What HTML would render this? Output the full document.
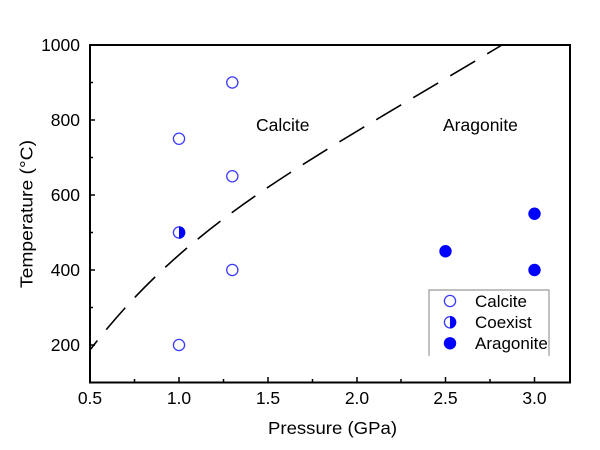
<!DOCTYPE html>
<html>
<head>
<meta charset="utf-8">
<style>
html,body{margin:0;padding:0;background:#fff;}
svg{display:block;}
text{font-family:"Liberation Sans",Arial,sans-serif;fill:#000;}
</style>
</head>
<body>
<svg width="600" height="450" viewBox="0 0 600 450" xmlns="http://www.w3.org/2000/svg">
<rect x="0" y="0" width="600" height="450" fill="#fff"/>

<!-- dashed boundary curve -->
<path d="M90,350 C190,220 302,165 502,45"
 fill="none" stroke="#000" stroke-width="1.6" stroke-dasharray="29 14" stroke-dashoffset="17"/>

<!-- frame -->
<rect x="90" y="45" width="480" height="337.5" fill="none" stroke="#000" stroke-width="2"/>

<!-- x ticks -->
<g stroke="#000" stroke-width="1.5">
<line x1="90" y1="382" x2="90" y2="377"/>
<line x1="134.5" y1="382" x2="134.5" y2="379"/>
<line x1="179" y1="382" x2="179" y2="377"/>
<line x1="223.5" y1="382" x2="223.5" y2="379"/>
<line x1="268" y1="382" x2="268" y2="377"/>
<line x1="312.5" y1="382" x2="312.5" y2="379"/>
<line x1="357" y1="382" x2="357" y2="377"/>
<line x1="401" y1="382" x2="401" y2="379"/>
<line x1="445.5" y1="382" x2="445.5" y2="377"/>
<line x1="490" y1="382" x2="490" y2="379"/>
<line x1="534.5" y1="382" x2="534.5" y2="377"/>
<!-- y ticks -->
<line x1="90" y1="45" x2="95" y2="45"/>
<line x1="90" y1="82.5" x2="93" y2="82.5"/>
<line x1="90" y1="120" x2="95" y2="120"/>
<line x1="90" y1="157.5" x2="93" y2="157.5"/>
<line x1="90" y1="195" x2="95" y2="195"/>
<line x1="90" y1="232.5" x2="93" y2="232.5"/>
<line x1="90" y1="270" x2="95" y2="270"/>
<line x1="90" y1="307.5" x2="93" y2="307.5"/>
<line x1="90" y1="345" x2="95" y2="345"/>
</g>

<!-- tick labels -->
<g font-size="17.5" text-anchor="middle">
<text x="90" y="404">0.5</text>
<text x="179" y="404">1.0</text>
<text x="268" y="404">1.5</text>
<text x="357" y="404">2.0</text>
<text x="445.5" y="404">2.5</text>
<text x="534.5" y="404">3.0</text>
</g>
<g font-size="17.5" text-anchor="end">
<text x="80" y="51">1000</text>
<text x="80" y="126">800</text>
<text x="80" y="201">600</text>
<text x="80" y="276">400</text>
<text x="80" y="351">200</text>
</g>

<!-- axis titles -->
<text x="268" y="434" font-size="17.5" textLength="129" lengthAdjust="spacingAndGlyphs">Pressure (GPa)</text>
<text transform="translate(32.5,288) rotate(-90)" font-size="17.5" textLength="148" lengthAdjust="spacingAndGlyphs">Temperature (°C)</text>

<!-- region labels -->
<text x="256" y="131" font-size="17.5">Calcite</text>
<text x="443" y="131" font-size="17.5">Aragonite</text>

<!-- Calcite (open) -->
<g fill="none" stroke="#3a3aff" stroke-width="1.3">
<circle cx="179" cy="138.75" r="5.6"/>
<circle cx="232.3" cy="82.5" r="5.6"/>
<circle cx="232.3" cy="176.25" r="5.6"/>
<circle cx="232.3" cy="270" r="5.6"/>
<circle cx="179" cy="345" r="5.6"/>
</g>

<!-- Coexist (half filled) -->
<circle cx="179" cy="232.5" r="5.6" fill="none" stroke="#3a3aff" stroke-width="1.3"/>
<path d="M179,226.2 A6.3,6.3 0 0 1 179,238.8 Z" fill="#0000ff"/>

<!-- Aragonite (filled) -->
<g fill="#0000ff">
<circle cx="445.5" cy="251.25" r="6.2"/>
<circle cx="534.5" cy="213.75" r="6.2"/>
<circle cx="534.5" cy="270" r="6.2"/>
</g>

<!-- legend -->
<path d="M429,356 L429,290 L549,290 L549,356" fill="#fff" stroke="#999" stroke-width="1.2"/>
<circle cx="450" cy="301" r="5.6" fill="none" stroke="#3a3aff" stroke-width="1.3"/>
<circle cx="450" cy="322.3" r="5.6" fill="none" stroke="#3a3aff" stroke-width="1.3"/>
<path d="M450,316 A6.3,6.3 0 0 1 450,328.6 Z" fill="#0000ff"/>
<circle cx="450" cy="343.3" r="6.2" fill="#0000ff"/>
<g font-size="17">
<text x="475" y="307">Calcite</text>
<text x="475" y="328">Coexist</text>
<text x="475" y="349">Aragonite</text>
</g>
</svg>
</body>
</html>
